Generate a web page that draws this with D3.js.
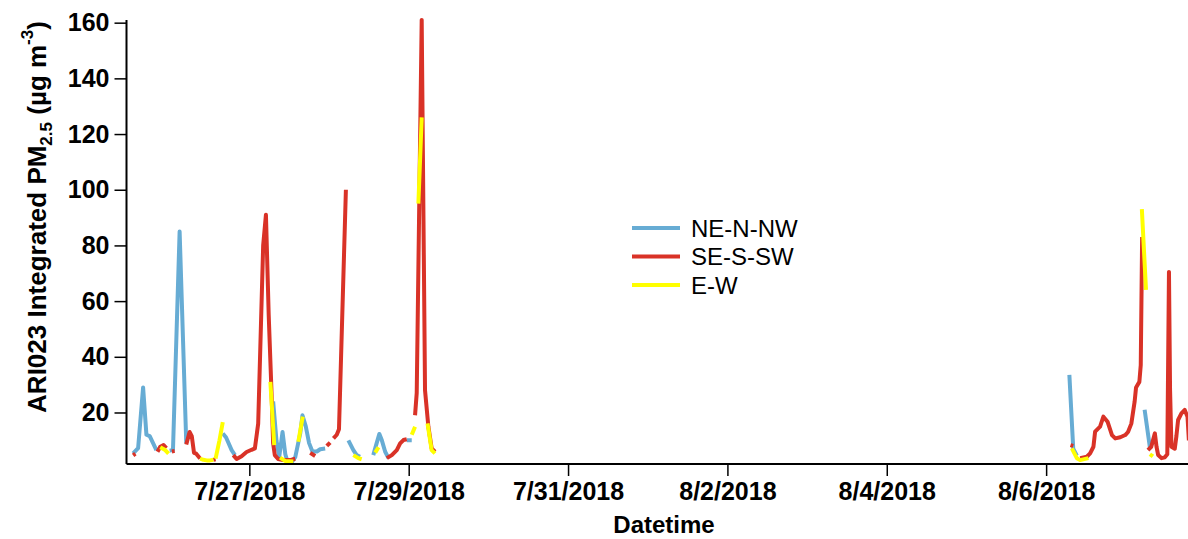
<!DOCTYPE html>
<html>
<head>
<meta charset="utf-8">
<script src="https://cdn.jsdelivr.net/npm/d3@7"></script>
<style>
  body { margin: 0; background: #fff; }
  svg text { font-family: "Liberation Sans", Arial, sans-serif; }
</style>
</head>
<body>
<svg id="chart"></svg>
<script>
// wind direction groups, hourly integrated PM2.5 (null = break in line)
var seriesNames = ["NE-N-NW", "SE-S-SW", "E-W"];
var seriesColors = ["#67acd4", "#d93227", "#ffff00"];

var neNNW = [
    ["7/25/2018 13:00", 5.3], ["7/25/2018 14:30", 7.2], ["7/25/2018 16:00", 29], ["7/25/2018 17:00", 12], ["7/25/2018 18:00", 11.5], ["7/25/2018 19:00", 9], ["7/25/2018 20:00", 6.5], null,
    ["7/26/2018 00:00", 6.3], ["7/26/2018 01:00", 6.5], ["7/26/2018 03:00", 85], ["7/26/2018 05:00", 9], null,
    ["7/26/2018 16:00", 12.5], ["7/26/2018 17:00", 11], ["7/26/2018 18:40", 6.5], ["7/26/2018 19:40", 4.7], null,
    ["7/27/2018 07:10", 24], ["7/27/2018 08:10", 10], ["7/27/2018 09:00", 4], ["7/27/2018 10:00", 13], ["7/27/2018 10:50", 5], ["7/27/2018 11:20", 3], ["7/27/2018 12:50", 2.3], ["7/27/2018 13:50", 4], ["7/27/2018 15:20", 12.5], ["7/27/2018 16:00", 19], ["7/27/2018 17:00", 15], ["7/27/2018 18:00", 9], ["7/27/2018 19:00", 6], ["7/27/2018 20:20", 6], ["7/27/2018 21:20", 6.8], ["7/27/2018 22:50", 7.1], null,
    ["7/28/2018 05:50", 10], ["7/28/2018 07:20", 6.5], ["7/28/2018 08:20", 4.7], ["7/28/2018 09:20", 4.1], null,
    ["7/28/2018 13:20", 4.7], ["7/28/2018 14:20", 8.9], ["7/28/2018 15:10", 12.3], ["7/28/2018 15:55", 10], ["7/28/2018 16:55", 5.9], ["7/28/2018 17:55", 3.6], null,
    ["7/28/2018 23:25", 10], ["7/29/2018 00:55", 10], null,
    ["8/6/2018 07:00", 33.5], ["8/6/2018 08:10", 7], ["8/6/2018 09:15", 4.5], null,
    ["8/7/2018 05:40", 21], ["8/7/2018 07:15", 7.5]
];

var seSSW = [
    ["7/25/2018 13:00", 4.6], ["7/25/2018 13:40", 5.2], null,
    ["7/25/2018 20:20", 5.9], ["7/25/2018 21:10", 7.7], ["7/25/2018 22:10", 8.3], ["7/25/2018 23:00", 7.2], null,
    ["7/26/2018 00:40", 6], ["7/26/2018 01:30", 6.2], null,
    ["7/26/2018 05:00", 8.5], ["7/26/2018 06:00", 13], ["7/26/2018 06:40", 11.5], ["7/26/2018 07:20", 5.5], ["7/26/2018 08:00", 5.2], ["7/26/2018 09:10", 3.5], null,
    ["7/26/2018 13:10", 3.0], ["7/26/2018 13:50", 3.2], null,
    ["7/26/2018 19:10", 4.7], ["7/26/2018 20:10", 3.3], ["7/26/2018 21:40", 4.3], ["7/26/2018 23:10", 5.8], ["7/27/2018 00:40", 6.6], ["7/27/2018 01:40", 7.1], ["7/27/2018 02:40", 16], ["7/27/2018 04:10", 80], ["7/27/2018 05:00", 91], ["7/27/2018 05:50", 55], ["7/27/2018 06:45", 25], ["7/27/2018 07:10", 9], ["7/27/2018 07:40", 4.7], ["7/27/2018 08:40", 3.3], ["7/27/2018 10:10", 2.9], ["7/27/2018 12:15", 2.9], ["7/27/2018 13:50", 3.4], null,
    ["7/27/2018 18:20", 5.5], ["7/27/2018 19:50", 4.4], null,
    ["7/27/2018 23:20", 8], ["7/28/2018 00:20", 9.2], null,
    ["7/28/2018 01:20", 10.7], ["7/28/2018 02:20", 12], ["7/28/2018 03:00", 14], ["7/28/2018 05:05", 100], null,
    ["7/28/2018 17:25", 3.6], ["7/28/2018 18:55", 4.7], ["7/28/2018 20:25", 6.5], ["7/28/2018 21:25", 8.9], ["7/28/2018 22:25", 10.1], ["7/28/2018 23:25", 10.4], null,
    ["7/29/2018 01:55", 19], ["7/29/2018 02:25", 27], ["7/29/2018 03:55", 161], ["7/29/2018 04:55", 28], ["7/29/2018 05:55", 15], ["7/29/2018 06:55", 7.1], ["7/29/2018 07:55", 5.9], null,
    ["8/6/2018 07:20", 8.3], ["8/6/2018 08:10", 8], null,
    ["8/6/2018 10:15", 3.6], ["8/6/2018 12:15", 4.1], ["8/6/2018 13:15", 5.3], ["8/6/2018 14:15", 7.7], ["8/6/2018 14:45", 13.1], ["8/6/2018 16:15", 14.9], ["8/6/2018 17:15", 18.5], ["8/6/2018 18:30", 16.7], ["8/6/2018 19:50", 11.9], ["8/6/2018 20:50", 10.7], ["8/6/2018 22:20", 11.1], ["8/6/2018 23:50", 11.9], ["8/7/2018 00:40", 13], ["8/7/2018 01:40", 16], ["8/7/2018 02:40", 24], ["8/7/2018 03:05", 29], ["8/7/2018 04:05", 31], ["8/7/2018 04:30", 37], ["8/7/2018 04:55", 83], null,
    ["8/7/2018 06:40", 6.5], ["8/7/2018 07:40", 7.7], ["8/7/2018 08:45", 12.5], ["8/7/2018 09:15", 7.7], ["8/7/2018 09:45", 4.7], ["8/7/2018 10:45", 3.6], ["8/7/2018 11:45", 3.9], ["8/7/2018 12:30", 5], ["8/7/2018 13:00", 70.5], ["8/7/2018 13:20", 28], ["8/7/2018 13:45", 7.7], ["8/7/2018 14:45", 7], ["8/7/2018 15:15", 11.6], ["8/7/2018 15:45", 17.3], ["8/7/2018 16:45", 19.7], ["8/7/2018 17:45", 20.9], ["8/7/2018 18:35", 18.5], ["8/7/2018 19:00", 10]
];

var eW = [
    ["7/25/2018 21:10", 7.5], ["7/25/2018 22:40", 6.5], ["7/25/2018 23:40", 5.2], null,
    ["7/26/2018 09:10", 3.4], ["7/26/2018 10:10", 3.0], ["7/26/2018 11:10", 2.8], ["7/26/2018 12:10", 2.8], ["7/26/2018 13:10", 3.0], null,
    ["7/26/2018 13:50", 3.4], ["7/26/2018 15:00", 10], ["7/26/2018 16:00", 16.5], null,
    ["7/27/2018 06:20", 31], ["7/27/2018 07:30", 8.3], null,
    ["7/27/2018 09:15", 3.8], ["7/27/2018 10:45", 2.6], ["7/27/2018 13:15", 2.4], null,
    ["7/27/2018 14:45", 9.5], ["7/27/2018 16:05", 18.5], null,
    ["7/28/2018 07:20", 4.7], ["7/28/2018 08:50", 3.6], ["7/28/2018 09:50", 3.2], null,
    ["7/28/2018 13:55", 5.6], ["7/28/2018 14:55", 7.5], null,
    ["7/29/2018 00:55", 12], ["7/29/2018 01:55", 14.9], null,
    ["7/29/2018 02:55", 95], ["7/29/2018 03:55", 126], null,
    ["7/29/2018 05:40", 16.1], ["7/29/2018 06:55", 6.5], ["7/29/2018 07:55", 5.3], null,
    ["8/6/2018 07:45", 7.1], ["8/6/2018 09:15", 3.6], ["8/6/2018 10:15", 2.9], ["8/6/2018 12:45", 3.6], null,
    ["8/7/2018 04:50", 93], ["8/7/2018 06:05", 64], null,
    ["8/7/2018 07:15", 5], ["8/7/2018 08:10", 4.2]
];

var xTickLabels = ["7/27/2018", "7/29/2018", "7/31/2018", "8/2/2018", "8/4/2018", "8/6/2018"];
var yTickValues = [20, 40, 60, 80, 100, 120, 140, 160];
var xDomain = ["7/25/2018 11:00", "8/7/2018 18:44"];
var yDomain = [1.5, 160.6];

var width = 1188,
    height = 539,
    plotLeft = 126.5,
    plotRight = 1188,
    plotTop = 21,
    plotBottom = 464;

var parseTime = d3.timeParse("%m/%d/%Y %H:%M"),
    parseDay = d3.timeParse("%m/%d/%Y");

var svg = d3.select("#chart").attr("width", width).attr("height", height);

var x = d3.scaleTime().domain(xDomain.map(parseTime)).range([plotLeft, plotRight]);
var y = d3.scaleLinear().domain(yDomain).range([plotBottom, plotTop]);

svg.append("clipPath").attr("id", "plotClip")
    .append("rect").attr("x", plotLeft).attr("y", 0).attr("width", plotRight - plotLeft).attr("height", plotBottom);

var line = d3.line()
    .defined(function (d) { return d !== null; })
    .x(function (d) { return x(d.t); })
    .y(function (d) { return y(d.v); });

function prep(arr) {
    return arr.map(function (d) { return d === null ? null : {t: parseTime(d[0]), v: d[1]}; });
}

var plot = svg.append("g").attr("clip-path", "url(#plotClip)");
[neNNW, seSSW, eW].forEach(function (s, i) {
    plot.append("path")
        .datum(prep(s))
        .attr("d", line)
        .attr("fill", "none")
        .attr("stroke", seriesColors[i])
        .attr("stroke-width", 4)
        .attr("stroke-linejoin", "round");
});

// axes
var xAxis = d3.axisBottom(x)
    .tickValues(xTickLabels.map(parseDay))
    .tickFormat(d3.timeFormat("%-m/%-d/%Y"))
    .tickSize(12).tickPadding(6);
var yAxis = d3.axisLeft(y).tickValues(yTickValues).tickSize(12).tickPadding(5);

var gx = svg.append("g").attr("transform", "translate(0," + plotBottom + ")").call(xAxis);
var gy = svg.append("g").attr("transform", "translate(" + plotLeft + ",0)").call(yAxis);

[gx, gy].forEach(function (g) {
    g.select(".domain").attr("stroke", "#000").attr("stroke-width", 2);
    g.selectAll(".tick line").attr("stroke", "#000").attr("stroke-width", 1.5);
    g.selectAll(".tick text").attr("fill", "#000").style("font-size", "25px").style("font-weight", "bold");
});
gx.select(".domain").attr("d", "M" + plotLeft + ",0H" + plotRight);
gy.select(".domain").attr("d", "M0," + (plotTop - 1) + "V" + plotBottom);

svg.append("text")
    .attr("x", 664).attr("y", 533)
    .attr("text-anchor", "middle")
    .style("font-size", "24px").style("font-weight", "bold")
    .text("Datetime");

var yt = svg.append("text")
    .attr("transform", "translate(46,217) rotate(-90)")
    .attr("text-anchor", "middle")
    .style("font-size", "26px").style("font-weight", "bold");
yt.append("tspan").text("ARI023 Integrated PM");
yt.append("tspan").attr("dy", 6).style("font-size", "17px").text("2.5");
yt.append("tspan").attr("dy", -6).text(" (µg m");
yt.append("tspan").attr("dy", -13).style("font-size", "17px").text("-3");
yt.append("tspan").attr("dy", 13).text(")");

// legend
var legend = svg.append("g").attr("transform", "translate(632,228)");
seriesNames.forEach(function (name, i) {
    var g = legend.append("g").attr("transform", "translate(0," + (i * 28.5) + ")");
    g.append("line").attr("x1", 0).attr("x2", 48).attr("y1", 0).attr("y2", 0)
        .attr("stroke", seriesColors[i]).attr("stroke-width", 4);
    g.append("text").attr("x", 59).attr("y", 8.5).style("font-size", "24px").text(name);
});
</script>
</body>
</html>
